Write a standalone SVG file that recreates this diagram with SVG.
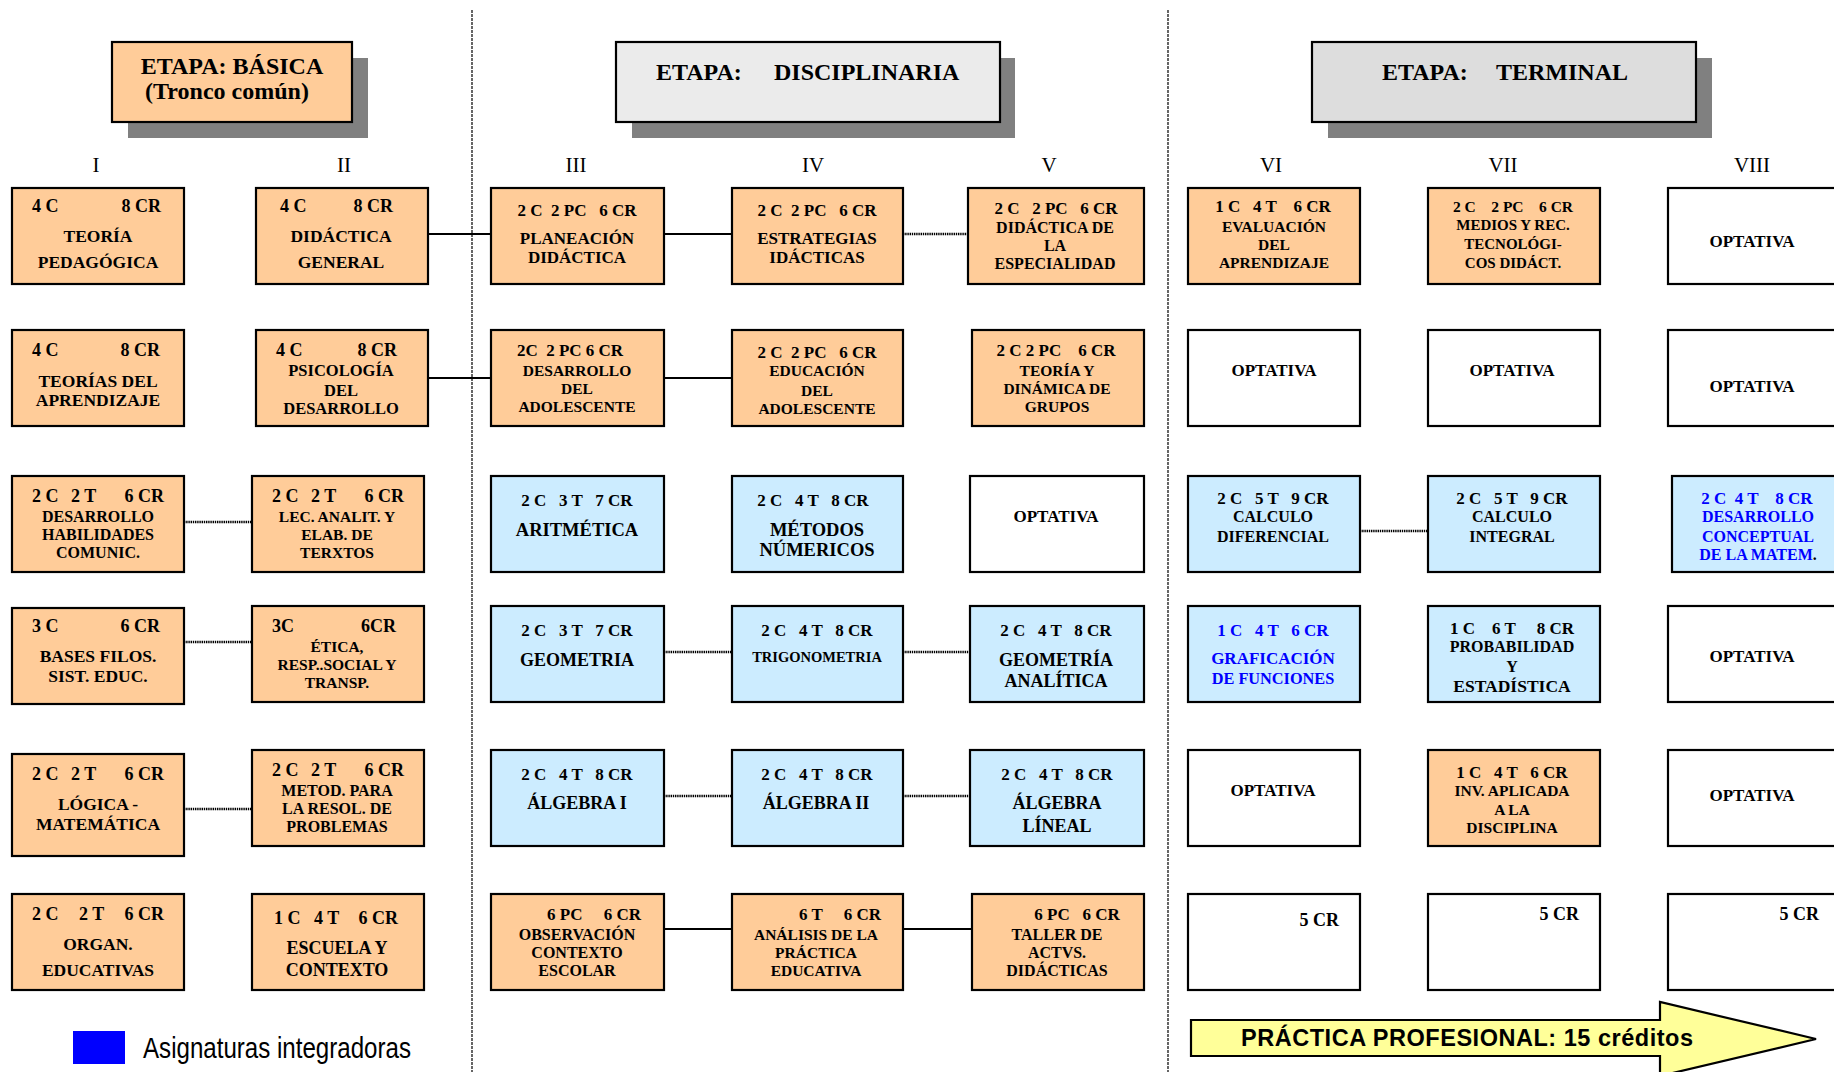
<svg xmlns="http://www.w3.org/2000/svg" width="1834" height="1072" viewBox="0 0 1834 1072" font-size="16">
<style>
.o{fill:#FFCC99;stroke:#000;stroke-width:2.2}
.b{fill:#CCECFF;stroke:#000;stroke-width:2.2}
.w{fill:#FFFFFF;stroke:#000;stroke-width:2.2}
.sh{fill:#808080}
text{font-family:"Liberation Serif","Times New Roman",serif;font-weight:bold;fill:#000;text-anchor:middle}
.s{text-anchor:start}
.e{text-anchor:end}
.bl{fill:#0000FF}
.rn{font-weight:normal}
.sep{stroke:#000;stroke-width:1.2;stroke-dasharray:3 1;fill:none}
.sol{stroke:#000;stroke-width:2;fill:none}
.dot{stroke:#000;stroke-width:2.4;stroke-dasharray:1.4 0.8;fill:none}
</style>
<rect width="1834" height="1072" fill="#FFFFFF"/>
<g id="separators">
<line class="sep" x1="472" y1="10" x2="472" y2="1072"/>
<line class="sep" x1="1168" y1="10" x2="1168" y2="1072"/>
</g>
<g id="etapa-basica"><rect class="sh" x="128" y="58" width="240" height="80"/><rect class="o" x="112" y="42" width="240" height="80"/><text font-size="24" x="232" y="74">ETAPA: BÁSICA</text><text font-size="24" x="227" y="99">(Tronco común)</text></g>
<g id="etapa-disciplinaria"><rect class="sh" x="632" y="58" width="383" height="80"/><rect x="616" y="42" width="384" height="80" fill="#EBEBEB" stroke="#000" stroke-width="2.2"/><text font-size="24" class="s" x="656" y="80">ETAPA:</text><text font-size="24" class="s" x="774" y="80">DISCIPLINARIA</text></g>
<g id="etapa-terminal"><rect class="sh" x="1328" y="58" width="384" height="80"/><rect x="1312" y="42" width="384" height="80" fill="#DDDDDD" stroke="#000" stroke-width="2.2"/><text font-size="24" class="s" x="1382" y="80">ETAPA:</text><text font-size="24" class="s" x="1496" y="80">TERMINAL</text></g>
<g id="semestres" font-size="21">
<text class="rn" x="96" y="172">I</text><text class="rn" x="344" y="172">II</text><text class="rn" x="576" y="172">III</text><text class="rn" x="813" y="172">IV</text><text class="rn" x="1049" y="172">V</text><text class="rn" x="1271" y="172">VI</text><text class="rn" x="1503" y="172">VII</text><text class="rn" x="1752" y="172">VIII</text>
</g>
<g id="connectors">
<line class="sol" x1="428" y1="234" x2="491" y2="234"/>
<line class="sol" x1="664" y1="234" x2="732" y2="234"/>
<line class="dot" x1="903" y1="234" x2="968" y2="234"/>
<line class="sol" x1="428" y1="378" x2="491" y2="378"/>
<line class="sol" x1="664" y1="378" x2="732" y2="378"/>
<line class="dot" x1="184" y1="522" x2="254" y2="522"/>
<line class="dot" x1="1360" y1="531" x2="1430" y2="531"/>
<line class="dot" x1="184" y1="642" x2="254" y2="642"/>
<line class="dot" x1="664" y1="652" x2="732" y2="652"/>
<line class="dot" x1="903" y1="652" x2="970" y2="652"/>
<line class="dot" x1="184" y1="809" x2="254" y2="809"/>
<line class="dot" x1="664" y1="796" x2="732" y2="796"/>
<line class="dot" x1="903" y1="796" x2="970" y2="796"/>
<line class="sol" x1="664" y1="929" x2="732" y2="929"/>
<line class="sol" x1="903" y1="929" x2="972" y2="929"/>
</g>
<!-- Row 1 -->
<g id="n-I1"><rect class="o" x="12" y="188" width="172" height="96"/><text class="s" x="32" y="212" font-size="18">4 C</text><text class="e" x="161" y="212" font-size="18">8 CR</text><text x="98" y="242" font-size="17.5">TEORÍA</text><text x="98" y="268" font-size="17.5">PEDAGÓGICA</text></g>
<g id="n-II1"><rect class="o" x="256" y="188" width="172" height="96"/><text class="s" x="280" y="212" font-size="18">4 C</text><text class="e" x="393" y="212" font-size="18">8 CR</text><text x="341" y="242" font-size="17.5">DIDÁCTICA</text><text x="341" y="268" font-size="17.5">GENERAL</text></g>
<g id="n-III1"><rect class="o" x="491" y="188" width="173" height="96"/><text x="577" y="216" font-size="17" xml:space="preserve">2 C  2 PC   6 CR</text><text x="577" y="244" font-size="17">PLANEACIÓN</text><text x="577" y="263" font-size="17">DIDÁCTICA</text></g>
<g id="n-IV1"><rect class="o" x="732" y="188" width="171" height="96"/><text x="817" y="216" font-size="17" xml:space="preserve">2 C  2 PC   6 CR</text><text x="817" y="244" font-size="17">ESTRATEGIAS</text><text x="817" y="263" font-size="17">IDÁCTICAS</text></g>
<g id="n-V1"><rect class="o" x="968" y="188" width="176" height="96"/><text x="1056" y="214" font-size="17" xml:space="preserve">2 C   2 PC   6 CR</text><text x="1055" y="233">DIDÁCTICA DE</text><text x="1055" y="251">LA</text><text x="1055" y="269">ESPECIALIDAD</text></g>
<g id="n-VI1"><rect class="o" x="1188" y="188" width="172" height="96"/><text x="1273" y="212" font-size="17" xml:space="preserve">1 C   4 T    6 CR</text><text x="1274" y="232" font-size="15.5">EVALUACIÓN</text><text x="1274" y="250" font-size="15.5">DEL</text><text x="1274" y="268" font-size="15.5">APRENDIZAJE</text></g>
<g id="n-VII1"><rect class="o" x="1428" y="188" width="172" height="96"/><text x="1513" y="212" font-size="15.5" xml:space="preserve">2 C    2 PC    6 CR</text><text x="1513" y="230" font-size="15">MEDIOS Y REC.</text><text x="1513" y="249" font-size="15">TECNOLÓGI-</text><text x="1513" y="268" font-size="15">COS DIDÁCT.</text></g>
<g id="n-VIII1"><rect class="w" x="1668" y="188" width="172" height="96"/><text x="1752" y="247" font-size="17">OPTATIVA</text></g>
<!-- Row 2 -->
<g id="n-I2"><rect class="o" x="12" y="330" width="172" height="96"/><text class="s" x="32" y="356" font-size="18">4 C</text><text class="e" x="160" y="356" font-size="18">8 CR</text><text x="98" y="387" font-size="17.5">TEORÍAS DEL</text><text x="98" y="406" font-size="17.5">APRENDIZAJE</text></g>
<g id="n-II2"><rect class="o" x="256" y="330" width="172" height="96"/><text class="s" x="276" y="356" font-size="18">4 C</text><text class="e" x="397" y="356" font-size="18">8 CR</text><text x="341" y="376" font-size="16.5">PSICOLOGÍA</text><text x="341" y="396" font-size="16.5">DEL</text><text x="341" y="414" font-size="16.5">DESARROLLO</text></g>
<g id="n-III2"><rect class="o" x="491" y="330" width="173" height="96"/><text x="570" y="356" font-size="17" xml:space="preserve">2C  2 PC 6 CR</text><text x="577" y="376" font-size="15.5">DESARROLLO</text><text x="577" y="394" font-size="15.5">DEL</text><text x="577" y="412" font-size="15.5">ADOLESCENTE</text></g>
<g id="n-IV2"><rect class="o" x="732" y="330" width="171" height="96"/><text x="817" y="358" font-size="17" xml:space="preserve">2 C  2 PC   6 CR</text><text x="817" y="376" font-size="15.5">EDUCACIÓN</text><text x="817" y="396" font-size="15.5">DEL</text><text x="817" y="414" font-size="15.5">ADOLESCENTE</text></g>
<g id="n-V2"><rect class="o" x="972" y="330" width="172" height="96"/><text x="1056" y="356" font-size="17" xml:space="preserve">2 C 2 PC    6 CR</text><text x="1057" y="376" font-size="15.5">TEORÍA Y</text><text x="1057" y="394" font-size="15.5">DINÁMICA DE</text><text x="1057" y="412" font-size="15.5">GRUPOS</text></g>
<g id="n-VI2"><rect class="w" x="1188" y="330" width="172" height="96"/><text x="1274" y="376" font-size="17">OPTATIVA</text></g>
<g id="n-VII2"><rect class="w" x="1428" y="330" width="172" height="96"/><text x="1512" y="376" font-size="17">OPTATIVA</text></g>
<g id="n-VIII2"><rect class="w" x="1668" y="330" width="172" height="96"/><text x="1752" y="392" font-size="17">OPTATIVA</text></g>
<!-- Row 3 -->
<g id="n-I3"><rect class="o" x="12" y="476" width="172" height="96"/><text class="s" x="32" y="502" font-size="18">2 C</text><text class="s" x="71" y="502" font-size="18">2 T</text><text class="e" x="164" y="502" font-size="18">6 CR</text><text x="98" y="522">DESARROLLO</text><text x="98" y="540">HABILIDADES</text><text x="98" y="558">COMUNIC.</text></g>
<g id="n-II3"><rect class="o" x="252" y="476" width="172" height="96"/><text class="s" x="272" y="502" font-size="18">2 C</text><text class="s" x="311" y="502" font-size="18">2 T</text><text class="e" x="404" y="502" font-size="18">6 CR</text><text x="337" y="522" font-size="15.5">LEC. ANALIT. Y</text><text x="337" y="540" font-size="15.5">ELAB. DE</text><text x="337" y="558" font-size="15.5">TERXTOS</text></g>
<g id="n-III3"><rect class="b" x="491" y="476" width="173" height="96"/><text x="577" y="506" font-size="17" xml:space="preserve">2 C   3 T   7 CR</text><text x="577" y="536" font-size="18.5">ARITMÉTICA</text></g>
<g id="n-IV3"><rect class="b" x="732" y="476" width="171" height="96"/><text x="813" y="506" font-size="17" xml:space="preserve">2 C   4 T   8 CR</text><text x="817" y="536" font-size="18.5">MÉTODOS</text><text x="817" y="556" font-size="18.5">NÚMERICOS</text></g>
<g id="n-V3"><rect class="w" x="970" y="476" width="174" height="96"/><text x="1056" y="522" font-size="17">OPTATIVA</text></g>
<g id="n-VI3"><rect class="b" x="1188" y="476" width="172" height="96"/><text x="1273" y="504" font-size="17" xml:space="preserve">2 C   5 T   9 CR</text><text x="1273" y="522">CALCULO</text><text x="1273" y="542">DIFERENCIAL</text></g>
<g id="n-VII3"><rect class="b" x="1428" y="476" width="172" height="96"/><text x="1512" y="504" font-size="17" xml:space="preserve">2 C   5 T   9 CR</text><text x="1512" y="522">CALCULO</text><text x="1512" y="542">INTEGRAL</text></g>
<g id="n-VIII3"><rect class="b" x="1672" y="476" width="168" height="96"/><text class="bl" x="1757" y="504" font-size="17" xml:space="preserve">2 C  4 T    8 CR</text><text class="bl" x="1758" y="522">DESARROLLO</text><text class="bl" x="1758" y="542">CONCEPTUAL</text><text class="bl" x="1758" y="560">DE LA MATEM<tspan fill="#000">.</tspan></text></g>
<!-- Row 4 -->
<g id="n-I4"><rect class="o" x="12" y="608" width="172" height="96"/><text class="s" x="32" y="632" font-size="18">3 C</text><text class="e" x="160" y="632" font-size="18">6 CR</text><text x="98" y="662" font-size="17.5">BASES FILOS.</text><text x="98" y="682" font-size="17.5">SIST. EDUC.</text></g>
<g id="n-II4"><rect class="o" x="252" y="606" width="172" height="96"/><text class="s" x="272" y="632" font-size="18">3C</text><text class="e" x="396" y="632" font-size="18">6CR</text><text x="337" y="652" font-size="15.5">ÉTICA,</text><text x="337" y="670" font-size="15.5">RESP..SOCIAL Y</text><text x="337" y="688" font-size="15.5">TRANSP.</text></g>
<g id="n-III4"><rect class="b" x="491" y="606" width="173" height="96"/><text x="577" y="636" font-size="17" xml:space="preserve">2 C   3 T   7 CR</text><text x="577" y="666" font-size="18">GEOMETRIA</text></g>
<g id="n-IV4"><rect class="b" x="732" y="606" width="171" height="96"/><text x="817" y="636" font-size="17" xml:space="preserve">2 C   4 T   8 CR</text><text x="817" y="662" font-size="14.5">TRIGONOMETRIA</text></g>
<g id="n-V4"><rect class="b" x="970" y="606" width="174" height="96"/><text x="1056" y="636" font-size="17" xml:space="preserve">2 C   4 T   8 CR</text><text x="1056" y="666" font-size="18">GEOMETRÍA</text><text x="1056" y="687" font-size="18">ANALÍTICA</text></g>
<g id="n-VI4"><rect class="b" x="1188" y="606" width="172" height="96"/><text class="bl" x="1273" y="636" font-size="17" xml:space="preserve">1 C   4 T   6 CR</text><text class="bl" x="1273" y="664" font-size="17">GRAFICACIÓN</text><text class="bl" x="1273" y="684" font-size="16.3">DE FUNCIONES</text></g>
<g id="n-VII4"><rect class="b" x="1428" y="606" width="172" height="96"/><text x="1512" y="634" font-size="17" xml:space="preserve">1 C    6 T     8 CR</text><text x="1512" y="652">PROBABILIDAD</text><text x="1512" y="672">Y</text><text x="1512" y="692" font-size="17.5">ESTADÍSTICA</text></g>
<g id="n-VIII4"><rect class="w" x="1668" y="606" width="172" height="96"/><text x="1752" y="662" font-size="17">OPTATIVA</text></g>
<!-- Row 5 -->
<g id="n-I5"><rect class="o" x="12" y="754" width="172" height="102"/><text class="s" x="32" y="780" font-size="18">2 C</text><text class="s" x="71" y="780" font-size="18">2 T</text><text class="e" x="164" y="780" font-size="18">6 CR</text><text x="98" y="810" font-size="17.5">LÓGICA -</text><text x="98" y="830" font-size="17.5">MATEMÁTICA</text></g>
<g id="n-II5"><rect class="o" x="252" y="750" width="172" height="96"/><text class="s" x="272" y="776" font-size="18">2 C</text><text class="s" x="311" y="776" font-size="18">2 T</text><text class="e" x="404" y="776" font-size="18">6 CR</text><text x="337" y="796">METOD. PARA</text><text x="337" y="814">LA RESOL. DE</text><text x="337" y="832">PROBLEMAS</text></g>
<g id="n-III5"><rect class="b" x="491" y="750" width="173" height="96"/><text x="577" y="780" font-size="17" xml:space="preserve">2 C   4 T   8 CR</text><text x="577" y="809" font-size="18">ÁLGEBRA I</text></g>
<g id="n-IV5"><rect class="b" x="732" y="750" width="171" height="96"/><text x="817" y="780" font-size="17" xml:space="preserve">2 C   4 T   8 CR</text><text x="816" y="809" font-size="18">ÁLGEBRA II</text></g>
<g id="n-V5"><rect class="b" x="970" y="750" width="174" height="96"/><text x="1057" y="780" font-size="17" xml:space="preserve">2 C   4 T   8 CR</text><text x="1057" y="809" font-size="18">ÁLGEBRA</text><text x="1057" y="832" font-size="18">LÍNEAL</text></g>
<g id="n-VI5"><rect class="w" x="1188" y="750" width="172" height="96"/><text x="1273" y="796" font-size="17">OPTATIVA</text></g>
<g id="n-VII5"><rect class="o" x="1428" y="750" width="172" height="96"/><text x="1512" y="778" font-size="17" xml:space="preserve">1 C   4 T   6 CR</text><text x="1512" y="796" font-size="15.5">INV. APLICADA</text><text x="1512" y="815" font-size="15.5">A LA</text><text x="1512" y="833" font-size="15.5">DISCIPLINA</text></g>
<g id="n-VIII5"><rect class="w" x="1668" y="750" width="172" height="96"/><text x="1752" y="801" font-size="17">OPTATIVA</text></g>
<!-- Row 6 -->
<g id="n-I6"><rect class="o" x="12" y="894" width="172" height="96"/><text class="s" x="32" y="920" font-size="18">2 C</text><text class="s" x="79" y="920" font-size="18">2 T</text><text class="e" x="164" y="920" font-size="18">6 CR</text><text x="98" y="950" font-size="17.5">ORGAN.</text><text x="98" y="976" font-size="17.5">EDUCATIVAS</text></g>
<g id="n-II6"><rect class="o" x="252" y="894" width="172" height="96"/><text class="s" x="274" y="924" font-size="18">1 C</text><text class="s" x="314" y="924" font-size="18">4 T</text><text class="e" x="398" y="924" font-size="18">6 CR</text><text x="337" y="954" font-size="18">ESCUELA Y</text><text x="337" y="976" font-size="18">CONTEXTO</text></g>
<g id="n-III6"><rect class="o" x="491" y="894" width="173" height="96"/><text x="594" y="920" font-size="17" xml:space="preserve">6 PC     6 CR</text><text x="577" y="940">OBSERVACIÓN</text><text x="577" y="958">CONTEXTO</text><text x="577" y="976">ESCOLAR</text></g>
<g id="n-IV6"><rect class="o" x="732" y="894" width="171" height="96"/><text x="840" y="920" font-size="17" xml:space="preserve">6 T     6 CR</text><text x="816" y="940" font-size="15.5">ANÁLISIS DE LA</text><text x="816" y="958" font-size="15.5">PRÁCTICA</text><text x="816" y="976" font-size="15.5">EDUCATIVA</text></g>
<g id="n-V6"><rect class="o" x="972" y="894" width="172" height="96"/><text x="1077" y="920" font-size="17" xml:space="preserve">6 PC   6 CR</text><text x="1057" y="940">TALLER DE</text><text x="1057" y="958">ACTVS.</text><text x="1057" y="976">DIDÁCTICAS</text></g>
<g id="n-VI6"><rect class="w" x="1188" y="894" width="172" height="96"/><text class="e" x="1339" y="926" font-size="18">5 CR</text></g>
<g id="n-VII6"><rect class="w" x="1428" y="894" width="172" height="96"/><text class="e" x="1579" y="920" font-size="18">5 CR</text></g>
<g id="n-VIII6"><rect class="w" x="1668" y="894" width="172" height="96"/><text class="e" x="1819" y="920" font-size="18">5 CR</text></g>
<g id="practica"><polygon points="1191,1020 1660,1020 1660,1002 1816,1039 1660,1076 1660,1056 1191,1056" fill="#FFFF99" stroke="#000" stroke-width="2.2"/><text class="s" x="1241" y="1046" font-size="23.5" textLength="452" lengthAdjust="spacing" style="font-family:'Liberation Sans',Arial,sans-serif">PRÁCTICA PROFESIONAL: 15 créditos</text></g>
<g id="leyenda"><rect x="73" y="1031" width="52" height="33" fill="#0000FF"/><text class="s" x="143" y="1058" font-size="29" textLength="268" lengthAdjust="spacingAndGlyphs" style="font-family:'Liberation Sans Narrow','Liberation Sans',Arial,sans-serif;font-weight:normal">Asignaturas integradoras</text></g>
</svg>
